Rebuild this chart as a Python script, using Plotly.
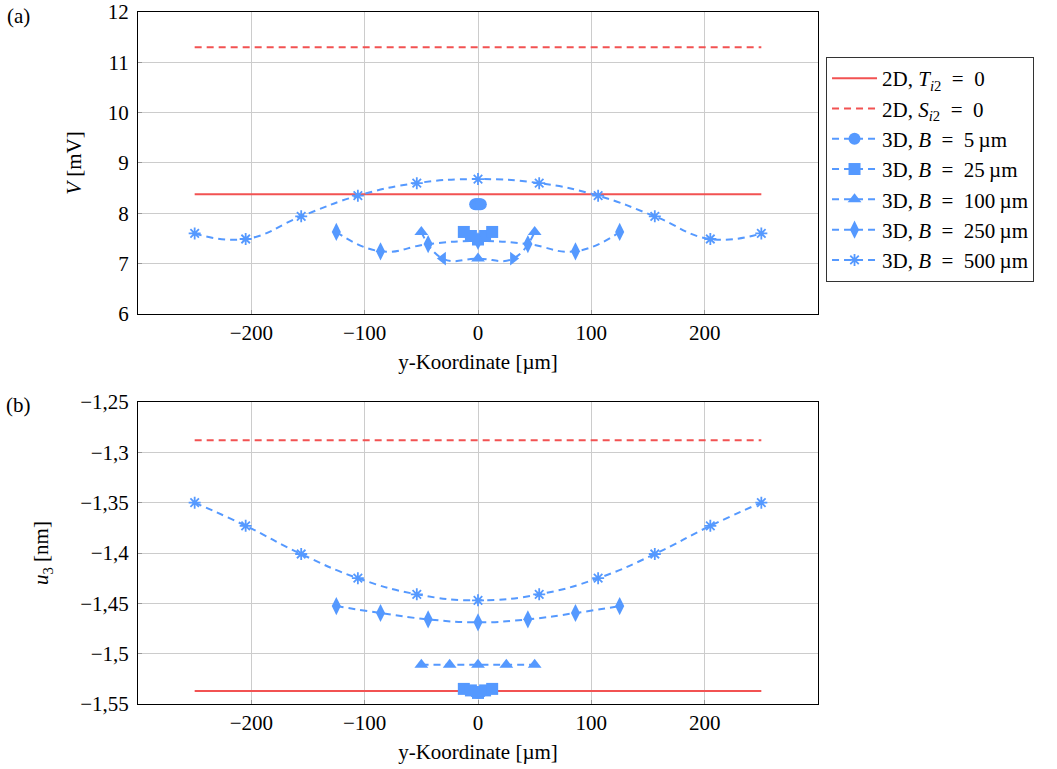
import plotly.graph_objects as go

# ---------------- data ----------------
x_2d = [-250, 250]
V_T0 = [8.38, 8.38]
V_S0 = [11.30, 11.30]
u_T0 = [-1.537, -1.537]
u_S0 = [-1.288, -1.288]

x_B5 = [-2.5, -1.25, 0, 1.25, 2.5]
V_B5 = [8.18, 8.18, 8.18, 8.18, 8.18]
u_B5 = [-1.538, -1.538, -1.539, -1.538, -1.538]

x_B25 = [-12.5, -6.25, 0, 6.25, 12.5]
V_B25 = [7.63, 7.55, 7.48, 7.55, 7.63]
u_B25 = [-1.535, -1.5365, -1.539, -1.5365, -1.535]

x_B100_top = [-50, -31, 0, 31, 50]
V_B100 = [7.63, 7.10, 7.10, 7.10, 7.63]
sym_B100_top = ["triangle-up", "triangle-left", "triangle-up", "triangle-right", "triangle-up"]
x_B100 = [-50, -25, 0, 25, 50]
u_B100 = [-1.511, -1.511, -1.511, -1.511, -1.511]

x_B250 = [-125, -86, -44, 0, 44, 86, 125]
V_B250 = [7.63, 7.245, 7.39, 7.45, 7.39, 7.245, 7.63]
u_B250 = [-1.4527, -1.4596, -1.4659, -1.4689, -1.4659, -1.4596, -1.4527]

x_B500 = [-250, -205, -156, -106, -54, 0, 54, 106, 156, 205, 250]
V_B500 = [7.60, 7.49, 7.94, 8.35, 8.60, 8.68, 8.60, 8.35, 7.94, 7.49, 7.60]
u_B500 = [-1.350, -1.373, -1.401, -1.425, -1.441, -1.447, -1.441, -1.425, -1.401, -1.373, -1.350]

x_ticks = [-200, -100, 0, 100, 200]
x_ticktext = ["\u2212200", "\u2212100", "0", "100", "200"]
V_ticks = [6, 7, 8, 9, 10, 11, 12]
V_ticktext = ["6", "7", "8", "9", "10", "11", "12"]
u_ticks = [-1.55, -1.5, -1.45, -1.4, -1.35, -1.3, -1.25]
u_ticktext = ["\u22121,55", "\u22121,5", "\u22121,45", "\u22121,4", "\u22121,35", "\u22121,3", "\u22121,25"]

EQ = "\u2002=\u2002"
names = [
    "2D, <i>T</i><sub><i>i</i>2</sub>" + EQ + "0",
    "2D, <i>S</i><sub><i>i</i>2</sub>" + EQ + "0",
    "3D, <i>B</i>" + EQ + "5\u2009\u00b5m",
    "3D, <i>B</i>" + EQ + "25\u2009\u00b5m",
    "3D, <i>B</i>" + EQ + "100\u2009\u00b5m",
    "3D, <i>B</i>" + EQ + "250\u2009\u00b5m",
    "3D, <i>B</i>" + EQ + "500\u2009\u00b5m",
]

RED = "#f25252"
BLUE = "#5599ff"
FONT = "Liberation Serif"
FS = 21
DASH = "7px,5px"

fig = go.Figure()

def add_sets(xa, ya, showlegend, sets):
    for (x, y, name, kind, sym) in sets:
        if kind == "red_solid":
            tr = go.Scatter(x=x, y=y, mode="lines", name=name,
                            line=dict(color=RED, width=2))
        elif kind == "red_dash":
            tr = go.Scatter(x=x, y=y, mode="lines", name=name,
                            line=dict(color=RED, width=2, dash=DASH))
        else:
            if sym == "asterisk-open":
                marker = dict(symbol=sym, size=10, color=BLUE,
                              line=dict(color=BLUE, width=1.8))
            elif isinstance(sym, str) and sym == "diamond-tall":
                marker = dict(symbol=sym, size=13, color=BLUE, line=dict(width=0))
            else:
                marker = dict(symbol=sym, size=12, color=BLUE, line=dict(width=0))
            tr = go.Scatter(x=x, y=y, mode="lines+markers", name=name,
                            line=dict(color=BLUE, width=2, dash=DASH,
                                      shape="spline", smoothing=1.3),
                            marker=marker)
        tr.update(xaxis=xa, yaxis=ya, showlegend=showlegend, legendgroup=name)
        fig.add_trace(tr)

add_sets("x2", "y2", True, [
    (x_2d, V_T0, names[0], "red_solid", None),
    (x_2d, V_S0, names[1], "red_dash", None),
    (x_B5, V_B5, names[2], "blue", "circle"),
    (x_B25, V_B25, names[3], "blue", "square"),
    (x_B100_top, V_B100, names[4], "blue", sym_B100_top),
    (x_B250, V_B250, names[5], "blue", "diamond-tall"),
    (x_B500, V_B500, names[6], "blue", "asterisk-open"),
])
add_sets("x", "y", False, [
    (x_2d, u_T0, names[0], "red_solid", None),
    (x_2d, u_S0, names[1], "red_dash", None),
    (x_B5, u_B5, names[2], "blue", "circle"),
    (x_B25, u_B25, names[3], "blue", "square"),
    (x_B100, u_B100, names[4], "blue", "triangle-up"),
    (x_B250, u_B250, names[5], "blue", "diamond-tall"),
    (x_B500, u_B500, names[6], "blue", "asterisk-open"),
])

axis_common = dict(showline=True, linecolor="black", linewidth=1, mirror=True,
                   showgrid=True, gridcolor="#cccccc", gridwidth=1,
                   zeroline=False, ticks="inside", ticklen=4, tickcolor="#999999",
                   automargin=False,
                   tickfont=dict(family=FONT, size=FS, color="black"),
                   title_font=dict(family=FONT, size=FS, color="black"))

fig.update_layout(
    width=1057, height=769,
    margin=dict(l=138, r=239, t=12, b=65),
    paper_bgcolor="white", plot_bgcolor="white",
    font=dict(family=FONT, size=FS, color="black"),
    xaxis=dict(domain=[0, 1], anchor="y", range=[-300, 300],
               tickvals=x_ticks, ticktext=x_ticktext,
               title=dict(text="y-Koordinate [\u00b5m]", standoff=10), **axis_common),
    yaxis=dict(domain=[0, 0.4364], anchor="x", range=[-1.55, -1.25],
               tickvals=u_ticks, ticktext=u_ticktext, ticklabelstandoff=4,
               title=dict(text="<i>u</i><sub>3</sub> [nm]", standoff=25), **axis_common),
    xaxis2=dict(domain=[0, 1], anchor="y2", range=[-300, 300],
                tickvals=x_ticks, ticktext=x_ticktext,
                title=dict(text="y-Koordinate [\u00b5m]", standoff=10), **axis_common),
    yaxis2=dict(domain=[0.5636, 1], anchor="x2", range=[6, 12],
                tickvals=V_ticks, ticktext=V_ticktext, ticklabelstandoff=4,
                title=dict(text="<i>V</i> [mV]", standoff=20), **axis_common),
    legend=dict(x=1.0118, y=0.935, xanchor="left", yanchor="top",
                bgcolor="white", bordercolor="#333333", borderwidth=1,
                font=dict(family=FONT, size=21, color="black"),
                itemwidth=45, tracegroupgap=0),
    annotations=[
        dict(text="(a)", xref="paper", yref="paper", x=-0.176, y=0.994,
             xanchor="center", yanchor="middle", showarrow=False,
             font=dict(family=FONT, size=FS, color="black")),
        dict(text="(b)", xref="paper", yref="paper", x=-0.176, y=0.432,
             xanchor="center", yanchor="middle", showarrow=False,
             font=dict(family=FONT, size=FS, color="black")),
    ],
)

fig.write_html("out.html", config={"displayModeBar": False},
               post_script="document.body.style.margin='0';document.body.style.overflow='hidden';")
